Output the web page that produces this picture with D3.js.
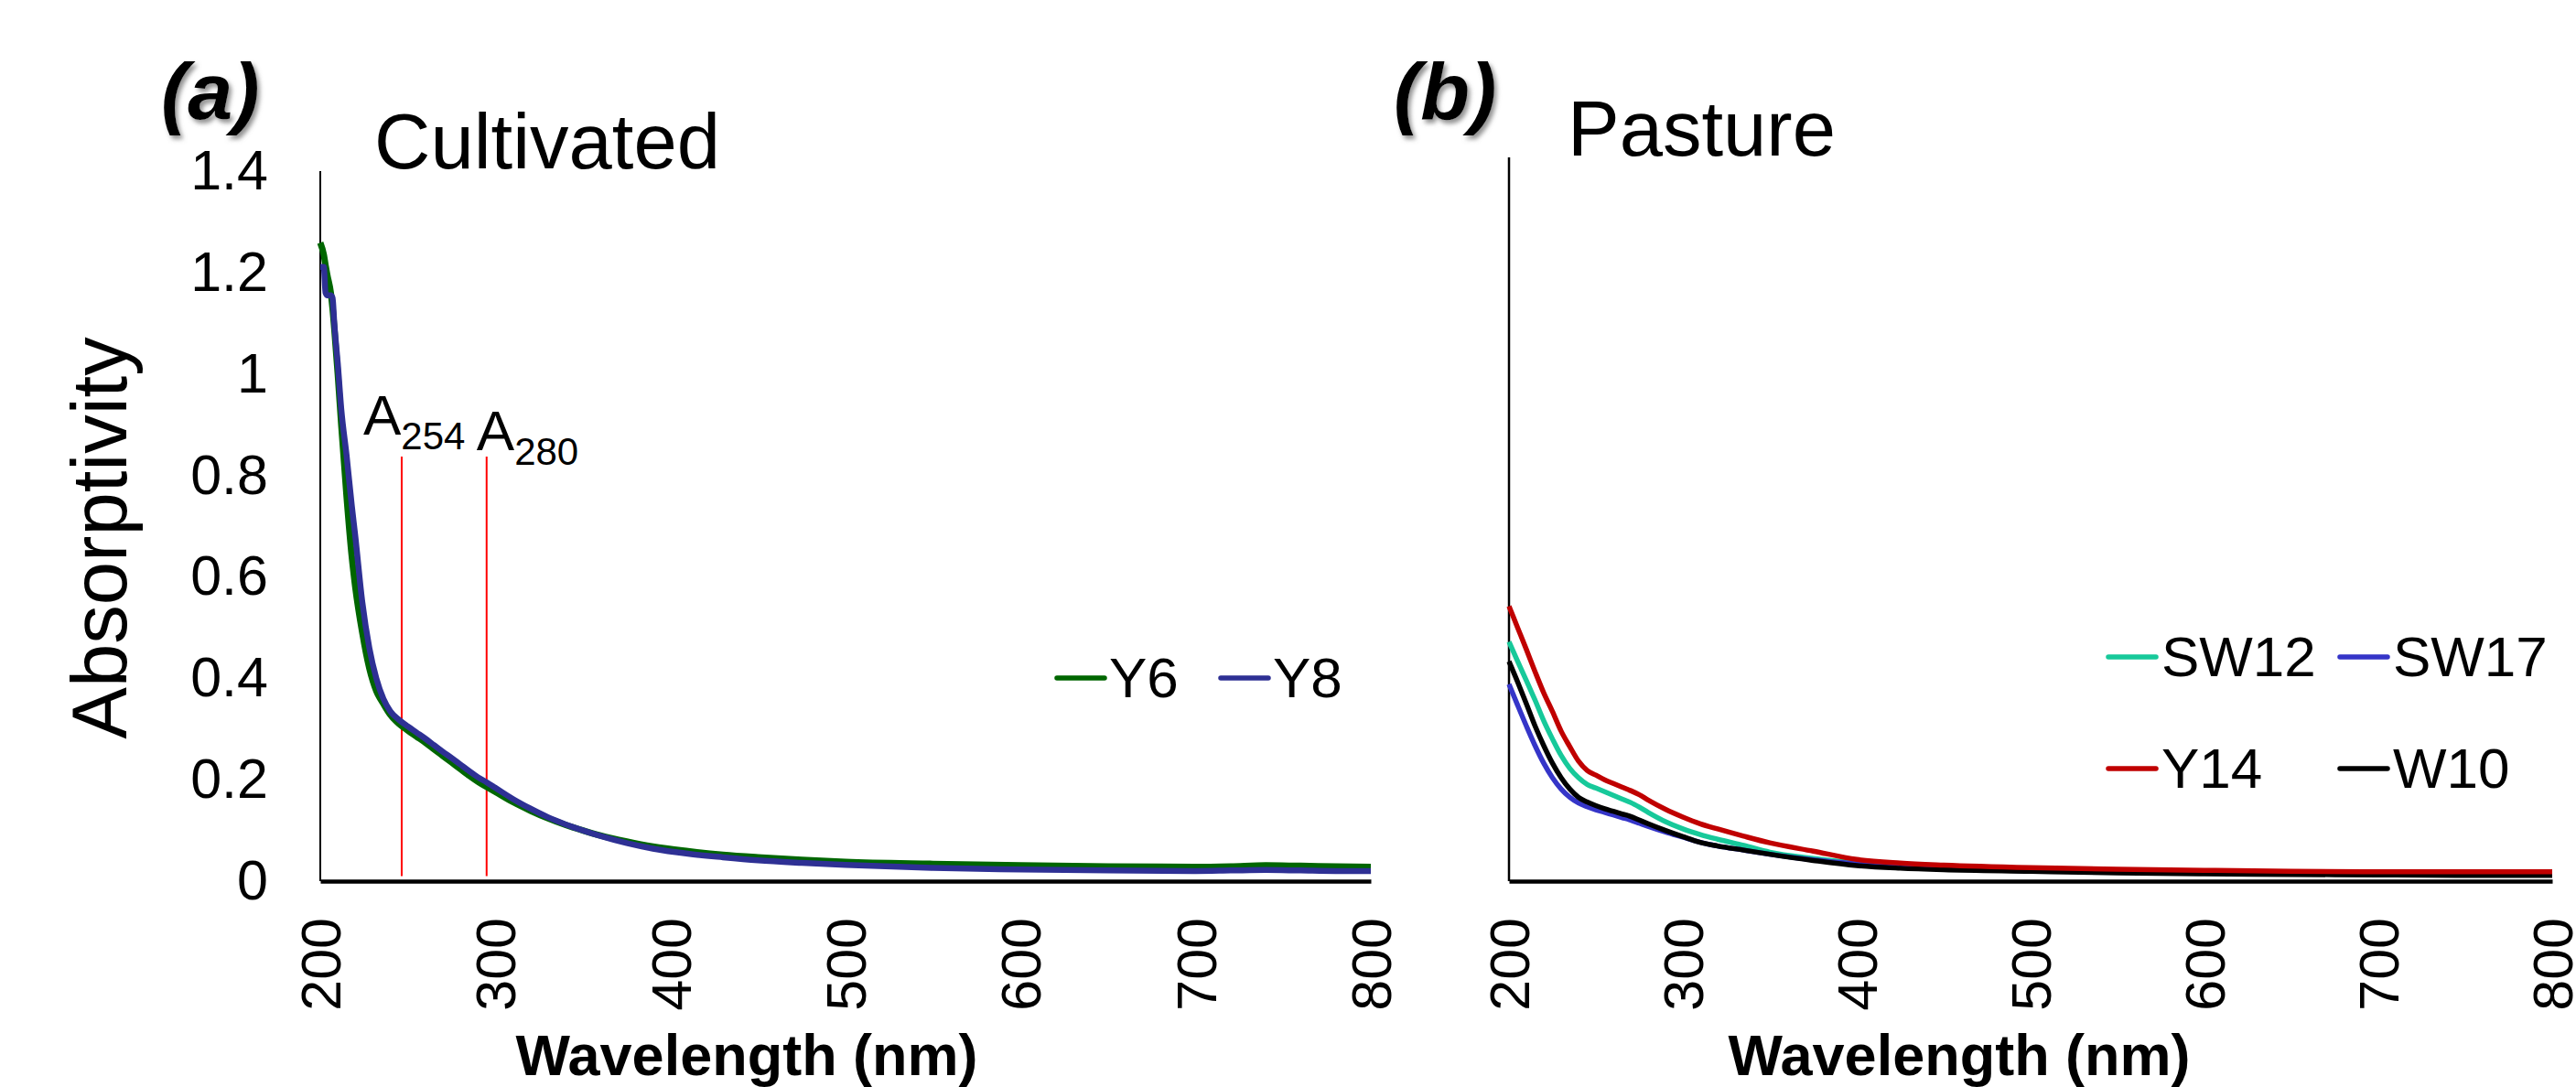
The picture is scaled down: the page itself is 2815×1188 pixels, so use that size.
<!DOCTYPE html>
<html>
<head>
<meta charset="utf-8">
<script src="https://cdn.jsdelivr.net/npm/d3@7"></script>
<style>
  body { margin: 0; background: #fff; }
  svg text { font-family: "Liberation Sans", Arial, sans-serif; }
</style>
</head>
<body>
<div id="vis-container"></div>
<script>
// canvas
const width = 2815;
const height = 1188;

// tick labels
const xTicks = [200, 300, 400, 500, 600, 700, 800];
const yTicks = [0, 0.2, 0.4, 0.6, 0.8, 1, 1.2, 1.4];

// panel (a) - cultivated
const waveA = [200, 202, 203, 204, 206, 207, 208, 210, 212, 215, 218, 220, 224, 228, 232, 236, 240, 245, 250, 255, 260, 265, 270, 275, 280, 285, 290, 295, 300, 310, 320, 330, 340, 350, 360, 375, 390, 410, 430, 450, 475, 500, 550, 600, 650, 700, 720, 740, 760, 780, 800];
const y6 = [1.259, 1.235, 1.214, 1.195, 1.16, 1.13, 1.09, 1.0, 0.9, 0.76, 0.64, 0.58, 0.49, 0.42, 0.375, 0.35, 0.328, 0.31, 0.297, 0.285, 0.273, 0.26, 0.247, 0.234, 0.221, 0.208, 0.196, 0.186, 0.176, 0.156, 0.139, 0.124, 0.111, 0.1, 0.09, 0.078, 0.068, 0.059, 0.052, 0.047, 0.042, 0.038, 0.034, 0.031, 0.029, 0.028, 0.029, 0.031, 0.03, 0.029, 0.028];
const y8 = [1.211, 1.211, 1.16, 1.155, 1.155, 1.15, 1.1, 1.02, 0.93, 0.84, 0.74, 0.68, 0.55, 0.46, 0.4, 0.36, 0.335, 0.318, 0.305, 0.293, 0.281, 0.268, 0.255, 0.243, 0.23, 0.217, 0.205, 0.195, 0.184, 0.162, 0.143, 0.126, 0.112, 0.1, 0.089, 0.075, 0.064, 0.054, 0.047, 0.041, 0.036, 0.032, 0.026, 0.023, 0.021, 0.02, 0.021, 0.022, 0.021, 0.02, 0.02];

// panel (b) - pasture
const waveB = [200, 205, 210, 215, 220, 225, 230, 235, 240, 245, 250, 255, 260, 265, 270, 275, 280, 290, 300, 310, 320, 335, 350, 375, 400, 425, 450, 500, 550, 600, 650, 700, 750, 800];
const sw12 = [0.463, 0.425, 0.388, 0.35, 0.31, 0.275, 0.243, 0.218, 0.2, 0.187, 0.18, 0.173, 0.166, 0.159, 0.152, 0.143, 0.133, 0.115, 0.101, 0.09, 0.081, 0.069, 0.056, 0.044, 0.035, 0.029, 0.025, 0.02, 0.018, 0.016, 0.015, 0.014, 0.014, 0.014];
const sw17 = [0.381, 0.34, 0.3, 0.262, 0.228, 0.2, 0.178, 0.162, 0.151, 0.144, 0.138, 0.133, 0.128, 0.123, 0.118, 0.112, 0.106, 0.095, 0.085, 0.075, 0.068, 0.06, 0.052, 0.041, 0.033, 0.027, 0.024, 0.02, 0.018, 0.016, 0.015, 0.014, 0.014, 0.015];
const y14 = [0.532, 0.49, 0.448, 0.405, 0.364, 0.328, 0.29, 0.26, 0.232, 0.214, 0.205, 0.196, 0.189, 0.182, 0.175, 0.167, 0.157, 0.139, 0.124, 0.111, 0.101, 0.087, 0.074, 0.058, 0.042, 0.035, 0.031, 0.026, 0.023, 0.021, 0.019, 0.018, 0.018, 0.018];
const w10 = [0.425, 0.385, 0.343, 0.3, 0.262, 0.228, 0.2, 0.178, 0.162, 0.153, 0.146, 0.14, 0.135, 0.13, 0.125, 0.118, 0.111, 0.098, 0.086, 0.075, 0.068, 0.06, 0.052, 0.04, 0.03, 0.025, 0.022, 0.019, 0.016, 0.014, 0.013, 0.012, 0.011, 0.011];

// red marker lines in panel (a): where they sit on the axis and what they say
const markerPos = [246.5, 295];
const markerSub = ["254", "280"];

const svg = d3.select("#vis-container")
    .append("svg")
    .attr("width", width)
    .attr("height", height);

// soft shadow for the panel letters
const defs = svg.append("defs");
defs.append("filter")
    .attr("id", "shadow")
    .attr("x", "-20%").attr("y", "-20%")
    .attr("width", "150%").attr("height", "150%")
    .append("feDropShadow")
    .attr("dx", 3).attr("dy", 4)
    .attr("stdDeviation", 2.5)
    .attr("flood-color", "#777")
    .attr("flood-opacity", 0.8);

// scales
const xA = d3.scaleLinear().domain([200, 800]).range([350, 1498]);
const yA = d3.scaleLinear().domain([0, 1.4]).range([963, 187]);
const xB = d3.scaleLinear().domain([200, 800]).range([1649, 2789]);
const yB = d3.scaleLinear().domain([0, 1.4]).range([963, 172]);

function drawXAxis(x, y) {
    const g = svg.append("g")
        .attr("transform", `translate(0,${y(0)})`)
        .call(d3.axisBottom(x).tickValues(xTicks).tickSize(0).tickFormat(d3.format("d")));
    g.select(".domain").attr("stroke", "#000").attr("stroke-width", 4.5);
    g.selectAll("text")
        .attr("transform", "rotate(-90)")
        .attr("text-anchor", "end")
        .attr("x", -40)
        .attr("y", 0)
        .attr("dy", "0.35em")
        .attr("font-size", 61)
        .attr("fill", "#000");
    return g;
}

function drawYLine(x, y, w) {
    svg.append("line")
        .attr("x1", x.range()[0]).attr("x2", x.range()[0])
        .attr("y1", y(0)).attr("y2", y(1.4))
        .attr("stroke", "#000")
        .attr("stroke-width", w);
}

// ---- panel (a) ----
{
    const gy = svg.append("g")
        .attr("transform", `translate(${xA.range()[0]},0)`)
        .call(d3.axisLeft(yA).tickValues(yTicks).tickSize(0).tickPadding(57)
            .tickFormat(d => String(+d.toFixed(1))));
    gy.select(".domain").remove();
    gy.selectAll("text").attr("font-size", 61).attr("fill", "#000");
    drawYLine(xA, yA, 2);
    drawXAxis(xA, yA);

    // red lines + labels (label offsets)
    const labelDx = [-42, -11];
    const labelY = [475, 492];
    markerPos.forEach((m, i) => {
        svg.append("line")
            .attr("x1", xA(m)).attr("x2", xA(m))
            .attr("y1", yA(0.01)).attr("y2", yA(0.837))
            .attr("stroke", "#ff0000")
            .attr("stroke-width", 2);
        const t = svg.append("text")
            .attr("x", xA(m) + labelDx[i])
            .attr("y", labelY[i])
            .attr("font-size", 62)
            .attr("fill", "#000");
        t.append("tspan").text("A");
        t.append("tspan").attr("font-size", 42).attr("dy", 16).text(markerSub[i]);
    });

    const line = d3.line()
        .x((d, i) => xA(waveA[i]))
        .y(d => yA(d))
        .curve(d3.curveMonotoneX);

    svg.append("path").datum(y6)
        .attr("d", line).attr("fill", "none")
        .attr("stroke", "#006600").attr("stroke-width", 7)
        .attr("stroke-linejoin", "round");
    svg.append("path").datum(y8)
        .attr("d", line).attr("fill", "none")
        .attr("stroke", "#2e3094").attr("stroke-width", 6.5)
        .attr("stroke-linejoin", "round");

    // legend
    const legA = [["Y6", "#006600", 1155], ["Y8", "#2e3094", 1334]];
    legA.forEach(([name, col, lx]) => {
        svg.append("line")
            .attr("x1", lx).attr("x2", lx + 52)
            .attr("y1", 741).attr("y2", 741)
            .attr("stroke", col).attr("stroke-width", 5.5)
            .attr("stroke-linecap", "round");
        svg.append("text")
            .attr("x", lx + 57).attr("y", 762)
            .attr("font-size", 62)
            .text(name);
    });

    // titles
    svg.append("text")
        .attr("x", 409).attr("y", 184)
        .attr("font-size", 85)
        .text("Cultivated");
    svg.append("text")
        .attr("x", 176).attr("y", 130)
        .attr("font-size", 88)
        .attr("font-weight", "bold")
        .attr("font-style", "italic")
        .attr("filter", "url(#shadow)")
        .text("(a)");
    svg.append("text")
        .attr("transform", "translate(138,588) rotate(-90)")
        .attr("text-anchor", "middle")
        .attr("font-size", 85)
        .text("Absorptivity");
    svg.append("text")
        .attr("x", 816).attr("y", 1175)
        .attr("text-anchor", "middle")
        .attr("font-size", 63)
        .attr("font-weight", "bold")
        .text("Wavelength (nm)");
}

// ---- panel (b) ----
{
    drawYLine(xB, yB, 2.5);
    drawXAxis(xB, yB);

    const line = d3.line()
        .x((d, i) => xB(waveB[i]))
        .y(d => yB(d))
        .curve(d3.curveMonotoneX);

    const seriesB = [
        ["SW12", sw12, "#17c99a"],
        ["SW17", sw17, "#3535c8"],
        ["W10", w10, "#000000"],
        ["Y14", y14, "#c00000"]
    ];
    seriesB.forEach(([name, vals, col]) => {
        svg.append("path").datum(vals)
            .attr("d", line).attr("fill", "none")
            .attr("stroke", col).attr("stroke-width", 5.5)
            .attr("stroke-linejoin", "round");
    });

    // legend: two rows
    const legB = [["SW12", "#17c99a", 2304, 718], ["SW17", "#3535c8", 2557, 718],
                  ["Y14", "#c00000", 2304, 840], ["W10", "#000000", 2557, 840]];
    legB.forEach(([name, col, lx, ly]) => {
        svg.append("line")
            .attr("x1", lx).attr("x2", lx + 52)
            .attr("y1", ly).attr("y2", ly)
            .attr("stroke", col).attr("stroke-width", 5.5)
            .attr("stroke-linecap", "round");
        svg.append("text")
            .attr("x", lx + 58).attr("y", ly + 21)
            .attr("font-size", 62)
            .text(name);
    });

    svg.append("text")
        .attr("x", 1713).attr("y", 170)
        .attr("font-size", 85)
        .text("Pasture");
    svg.append("text")
        .attr("x", 1523).attr("y", 130)
        .attr("font-size", 88)
        .attr("font-weight", "bold")
        .attr("font-style", "italic")
        .attr("filter", "url(#shadow)")
        .text("(b)");
    svg.append("text")
        .attr("x", 2141).attr("y", 1175)
        .attr("text-anchor", "middle")
        .attr("font-size", 63)
        .attr("font-weight", "bold")
        .text("Wavelength (nm)");
}
</script>
</body>
</html>
